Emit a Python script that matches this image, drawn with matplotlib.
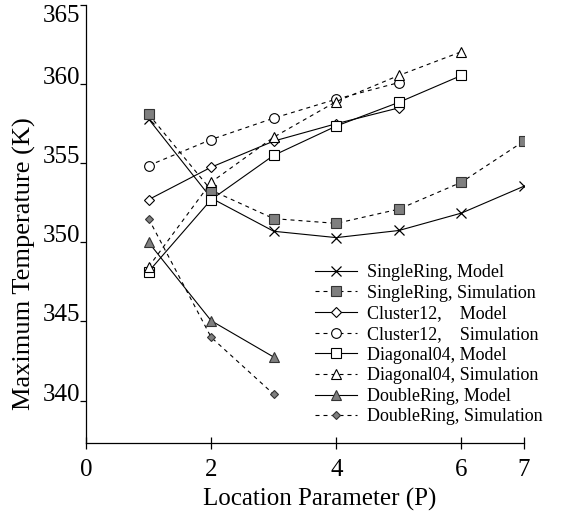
import matplotlib.pyplot as plt

plt.rcParams['font.family'] = ['Liberation Serif', 'DejaVu Serif']

# location parameter per series
p7 = [1, 2, 3, 4, 5, 6, 7]
p6 = [1, 2, 3, 4, 5, 6]
p5 = [1, 2, 3, 4, 5]
p3 = [1, 2, 3]

single_model = [357.8, 352.8, 350.7, 350.3, 350.75, 351.85, 353.55]
single_sim = [358.1, 353.3, 351.5, 351.2, 352.1, 353.8, 356.4]
cluster_model = [352.7, 354.75, 356.4, 357.5, 358.5]
cluster_sim = [354.85, 356.5, 357.85, 359.05, 360.1]
diag_model = [348.15, 352.7, 355.5, 357.35, 358.85, 360.55]
diag_sim = [348.45, 353.8, 356.65, 358.9, 360.55, 362.05]
double_model = [350.0, 345.05, 342.75]
double_sim = [351.5, 344.0, 340.4]

labels = ['SingleRing, Model', 'SingleRing, Simulation',
          'Cluster12,    Model', 'Cluster12,    Simulation',
          'Diagonal04, Model', 'Diagonal04, Simulation',
          'DoubleRing, Model', 'DoubleRing, Simulation']

xticks = [0, 2, 4, 6, 7]
yticks = [340, 345, 350, 355, 360, 365]

gray = '#7f7f7f'
edge = '#333333'
lw = 0.8
dash = (3.6, 3.6)

fig = plt.figure(figsize=(5.62, 5.18), dpi=100)
ax = fig.add_axes([0.153, 0.1442, 0.7794, 0.8461])

ax.plot(p7, single_model, '-', color='black', lw=lw, marker='x', ms=7.5, mew=0.9,
        mec='black', label=labels[0])
ax.plot(p7, single_sim, '--', dashes=dash, color='black', lw=lw, marker='s', ms=7,
        mfc=gray, mec=edge, mew=0.8, label=labels[1])
ax.plot(p5, cluster_model, '-', color='black', lw=lw, marker='D', ms=5,
        mfc='white', mec='black', mew=0.8, label=labels[2])
ax.plot(p5, cluster_sim, '--', dashes=dash, color='black', lw=lw, marker='o', ms=7,
        mfc='white', mec='black', mew=0.8, label=labels[3])
ax.plot(p6, diag_model, '-', color='black', lw=lw, marker='s', ms=7,
        mfc='white', mec='black', mew=0.8, label=labels[4])
ax.plot(p6, diag_sim, '--', dashes=dash, color='black', lw=lw, marker='^', ms=7,
        mfc='white', mec='black', mew=0.8, label=labels[5])
ax.plot(p3, double_model, '-', color='black', lw=lw, marker='^', ms=7.5,
        mfc=gray, mec=edge, mew=0.8, label=labels[6])
ax.plot(p3, double_sim, '--', dashes=dash, color='black', lw=lw, marker='D', ms=4.3,
        mfc=gray, mec=edge, mew=0.8, label=labels[7])

ax.set_xlim(0, 7)
ax.set_ylim(337.3, 365)
ax.set_xticks(xticks)
ax.set_yticks(yticks)
ax.spines['top'].set_visible(False)
ax.spines['right'].set_visible(False)
ax.spines['left'].set_linewidth(0.9)
ax.spines['bottom'].set_linewidth(0.9)
ax.tick_params(axis='x', direction='inout', length=8, width=0.9, pad=7.5, labelsize=18)
ax.tick_params(axis='y', direction='out', length=4.3, width=0.9, pad=0, labelsize=18)
ylabels = ax.get_yticklabels()
plt.setp(ylabels, va='baseline')
ylabels[-1].set_va('top')

ax.set_xlabel('Location Parameter (P)', fontsize=18)
ax.set_ylabel('Maximum Temperature (K)', fontsize=19)
ax.xaxis.set_label_coords(0.534, -0.102)
ax.yaxis.set_label_coords(-0.114, 0.411)

fig.legend(loc='upper left', bbox_to_anchor=(0.5605, 0.490), frameon=False,
           fontsize=13, handlelength=2.32, handletextpad=0.55, labelspacing=0.2,
           borderpad=0, borderaxespad=0)

fig.savefig('out.png', dpi=100)
